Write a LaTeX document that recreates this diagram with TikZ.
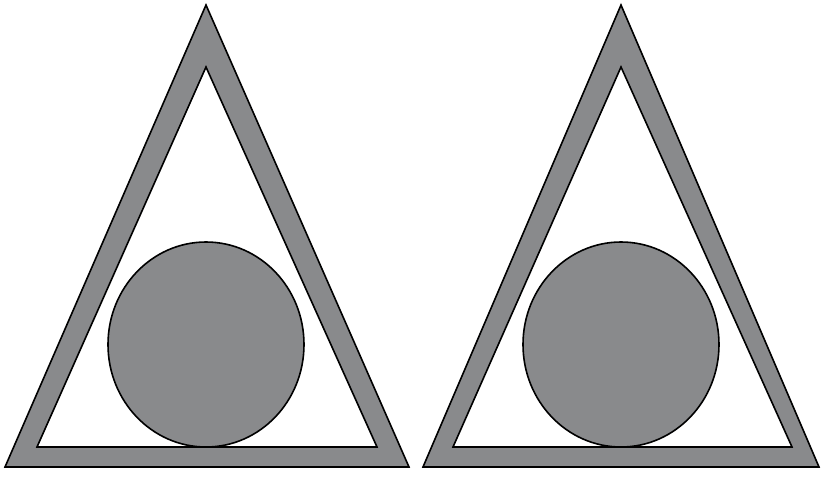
\documentclass[tikz,border=0pt]{standalone}
\usetikzlibrary{shapes.geometric}
\begin{document}
\begin{tikzpicture}[x=1pt,y=-1pt,
  band/.style={fill=bandgray,draw=black,line width=1.6pt,even odd rule,line join=miter},
  disc/.style={ellipse,fill=bandgray,draw=black,line width=1.6pt,minimum width=196pt,minimum height=205pt,inner sep=0pt}]
\definecolor{bandgray}{RGB}{137,138,140}
\useasboundingbox (0,0) rectangle (822,480);
% left figure
\path[band] (206,5) -- (409,467) -- (5,467) -- cycle
            (206,67) -- (377,447) -- (37,447) -- cycle;
\node[disc] (c1) at (206,344.5) {};
% right figure
\path[band] (621,5) -- (819,467) -- (423,467) -- cycle
            (621,67) -- (792,447) -- (453,447) -- cycle;
\node[disc] (c2) at (621,344.5) {};
\end{tikzpicture}
\end{document}
